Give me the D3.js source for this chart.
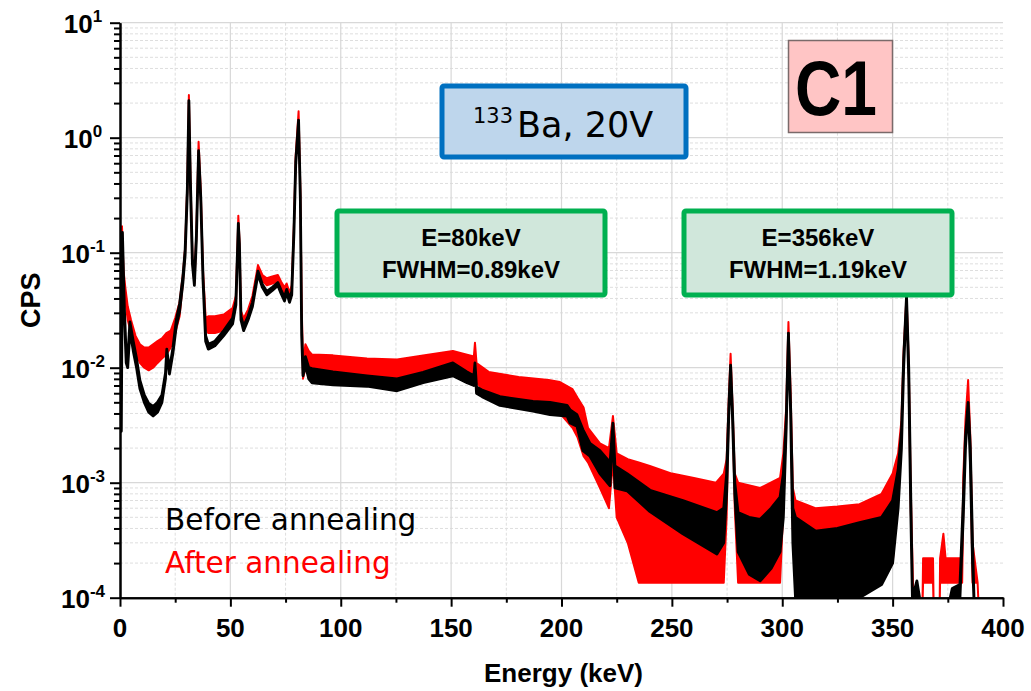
<!DOCTYPE html>
<html>
<head>
<meta charset="utf-8">
<script src="https://cdn.jsdelivr.net/npm/d3@7"></script>
<style>
  body { margin: 0; background: #fff; }
  svg { display: block; }
  .axis path, .axis line { stroke: #000; stroke-width: 2; }
  .grid-major line { stroke: #d8d8d8; stroke-width: 1.2; }
  .grid-minor line { stroke: #dedede; stroke-width: 1; stroke-dasharray: 3,2; }
</style>
</head>
<body>
<svg width="1031" height="691"></svg>
<script>
// spectrum: [energy keV, band low CPS, band high CPS]
var before = [
  [0,0.0040,0.0045],[0.6,0.0028,0.0030],[1.1,0.140,0.150],[2.0,0.028,0.032],
  [2.8,0.011,0.013],[3.5,0.010,0.012],[4.5,0.021,0.025],[6.0,0.014,0.017],
  [7.5,0.010,0.012],[9.0,0.0066,0.0078],[11,0.0050,0.0058],[13,0.0041,0.0049],
  [15,0.0038,0.0046],[17,0.0041,0.0050],[19,0.0050,0.0058],[20.6,0.0080,0.0090],
  [21.2,0.0135,0.0145],[22.4,0.0088,0.0096],[24,0.0135,0.015],[25.5,0.023,0.026],
  [27,0.031,0.036],[28.5,0.055,0.062],[29.5,0.095,0.105],[30.5,0.33,0.36],
  [31.2,2.0,2.1],[31.9,0.38,0.42],[32.8,0.080,0.088],[33.7,0.052,0.056],
  [34.6,0.13,0.14],[35.6,0.74,0.77],[36.6,0.28,0.30],[37.6,0.058,0.062],
  [38.8,0.017,0.019],[40,0.0145,0.016],[43,0.0155,0.017],[47,0.019,0.021],
  [51,0.024,0.027],[52.5,0.035,0.038],[53.2,0.095,0.10],[53.6,0.17,0.18],
  [54.1,0.11,0.12],[54.8,0.026,0.028],[56,0.021,0.023],[58,0.026,0.028],
  [60,0.034,0.037],[62.5,0.065,0.069],[64.5,0.050,0.053],[66.5,0.043,0.046],
  [69,0.047,0.050],[71.5,0.052,0.055],[73,0.044,0.047],[74.5,0.038,0.041],
  [75.5,0.045,0.048],[76.8,0.037,0.040],[77.8,0.043,0.046],[78.8,0.15,0.16],
  [79.6,0.58,0.62],[80.9,1.38,1.42],[81.7,0.29,0.31],[82.3,0.019,0.021],
  [82.9,0.0085,0.0095],[84,0.0105,0.0125],[85.5,0.0080,0.0100],[87,0.0074,0.0098],
  [96.5,0.0071,0.0092],[111.9,0.0069,0.0085],[125.5,0.0063,0.0080],[137.3,0.0074,0.0091],
  [150.8,0.0085,0.0110],[157.2,0.0074,0.0092],[160.3,0.0070,0.0085],[160.8,0.0105,0.0110],
  [161.5,0.0060,0.0068],[164,0.0056,0.0064],[172.1,0.0047,0.0056],[187.1,0.0042,0.0051],
  [194.8,0.0039,0.0050],[202.5,0.0038,0.0047],[203.9,0.0033,0.0043],[207,0.0031,0.0039],
  [209.7,0.0019,0.0029],[212.9,0.0017,0.0022],[217.4,0.0012,0.0019],[222,0.00094,0.0015],
  [223.3,0.0030,0.0033],[224.2,0.0009,0.0014],[229.7,0.00085,0.0012],[240.1,0.00056,0.00086],
  [255,0.00036,0.00070],[270.4,0.00024,0.00055],[273.5,0.00030,0.0006],[274.8,0.0008,0.0012],
  [275.8,0.0040,0.0045],[276.6,0.0100,0.0105],[277.5,0.0035,0.0040],[278.5,0.0008,0.0010],
  [280,0.00025,0.00055],[285,0.00016,0.0005],[290,0.00014,0.00048],[295,0.00018,0.0006],
  [299,0.00025,0.00075],[300.5,0.0005,0.0012],[301.8,0.0030,0.0035],[302.8,0.019,0.020],
  [303.8,0.0040,0.0045],[304.8,0.0003,0.0006],[306,0.0001,0.0005],[315,0.0001,0.00038],
  [325,0.0001,0.0004],[335,0.0001,0.00045],[345,0.00013,0.0005],[350,0.0002,0.0007],
  [352.5,0.0006,0.0013],[354,0.0020,0.0028],[355,0.010,0.012],[356.3,0.040,0.042],
  [357.3,0.008,0.010],[358.2,0.0006,0.0008],[359,0.00009,0.0001],[361,0.0001,0.00014],
  [363,0.00008,0.00008],[375,0.00008,0.00008],[377,0.0001,0.00012],[380.5,0.0001,0.00013],
  [382,0.0005,0.0007],[383,0.0020,0.0025],[384.2,0.0048,0.0050],[385.2,0.0015,0.0020],
  [386.2,0.0002,0.0003],[387,0.00008,0.00008]
];

var after = [
  [0,0.013,0.015],[0.9,0.165,0.170],[1.6,0.060,0.070],[2.4,0.038,0.050],
  [3.5,0.026,0.034],[5,0.020,0.026],[7,0.014,0.019],[9,0.011,0.016],
  [11,0.010,0.015],[13,0.0095,0.015],[15,0.010,0.016],[17,0.011,0.017],
  [19,0.012,0.018],[21,0.013,0.020],[23,0.015,0.021],[25,0.020,0.027],
  [27,0.028,0.037],[28.5,0.055,0.065],[29.5,0.10,0.11],[30.5,0.36,0.40],
  [31.2,2.25,2.35],[31.9,0.42,0.46],[32.8,0.085,0.095],[33.7,0.054,0.058],
  [34.6,0.14,0.15],[35.6,0.88,0.92],[36.6,0.32,0.34],[37.6,0.065,0.070],
  [38.8,0.022,0.027],[40,0.020,0.028],[43,0.020,0.028],[47,0.021,0.029],
  [51,0.025,0.033],[52.5,0.036,0.042],[53.2,0.10,0.11],[53.6,0.20,0.21],
  [54.1,0.12,0.13],[54.8,0.028,0.031],[56,0.023,0.027],[58,0.028,0.032],
  [60,0.038,0.042],[62.5,0.072,0.078],[64.5,0.057,0.064],[66.5,0.052,0.060],
  [69,0.054,0.062],[71.5,0.056,0.064],[73,0.048,0.056],[74.5,0.041,0.050],
  [75.5,0.048,0.054],[76.8,0.039,0.045],[77.8,0.046,0.052],[78.8,0.17,0.18],
  [79.6,0.65,0.70],[80.9,1.65,1.70],[81.7,0.33,0.35],[82.3,0.030,0.035],
  [82.9,0.008,0.011],[84,0.010,0.016],[85.5,0.009,0.014],[87,0.0082,0.0130],
  [96.5,0.0080,0.0128],[111.9,0.0075,0.0120],[125.5,0.0072,0.0118],[137.3,0.0082,0.0128],
  [150.8,0.0094,0.0140],[157.2,0.0085,0.0130],[160.3,0.0080,0.0125],[160.8,0.0150,0.0165],
  [161.5,0.0075,0.0110],[167,0.0055,0.0092],[180.6,0.0045,0.0083],[194.2,0.0042,0.0078],
  [199.3,0.0040,0.0075],[205,0.0030,0.0065],[207.2,0.0025,0.0055],[210,0.0017,0.0045],
  [212,0.0015,0.0030],[217.4,0.0009,0.0022],[221.5,0.0006,0.0020],[223.3,0.0015,0.0038],
  [225,0.0005,0.0018],[230,0.0003,0.0016],[235,0.000135,0.0015],[240,0.000135,0.0014],
  [250,0.000135,0.0012],[260,0.000135,0.0011],[270,0.000135,0.0010],[273.5,0.000135,0.0012],
  [274.8,0.0005,0.0016],[275.8,0.0050,0.0055],[276.6,0.0128,0.0132],[277.5,0.0040,0.0045],
  [278.5,0.0006,0.0012],[280,0.000135,0.0010],[290,0.000135,0.0009],[299,0.000135,0.0011],
  [300.5,0.0006,0.0018],[301.8,0.0035,0.0045],[302.8,0.0245,0.0250],[303.8,0.0050,0.0060],
  [304.8,0.0004,0.0009],[306,0.000135,0.0007],[315,0.000135,0.0006],[325,0.000135,0.00062],
  [335,0.000135,0.00065],[345,0.000135,0.0008],[350,0.0002,0.0012],[352.5,0.0008,0.0018],
  [354,0.0025,0.0035],[355,0.012,0.014],[356.3,0.041,0.043],[357.3,0.009,0.011],
  [358.2,0.0006,0.0009],[359,0.000135,0.0002],[359.5,0.00008,0.00008],[363.5,0.00008,0.00008],
  [363.8,0.000135,0.00022],[368.3,0.000135,0.00022],[368.6,0.00008,0.00008],[371.3,0.00008,0.00008],
  [371.5,0.000135,0.00022],[373,0.000135,0.00036],[374,0.000135,0.00022],[381.5,0.000135,0.00022],
  [382,0.0006,0.0011],[383,0.0030,0.0035],[384.2,0.0075,0.0078],[385.2,0.0020,0.0025],
  [386.2,0.000135,0.0003],[388.5,0.000135,0.000135],[389,0.00008,0.00008]
];

var xMajor = [0, 50, 100, 150, 200, 250, 300, 350, 400];
var xMinor = [25, 75, 125, 175, 225, 275, 325, 375];
var yExponents = [-4, -3, -2, -1, 0, 1];
var legendLabels = ["Before annealing", "After annealing"];
var peakNotes = [["E=80keV", "FWHM=0.89keV"], ["E=356keV", "FWHM=1.19keV"]];

// size and margins
var svg = d3.select("svg"),
    margin = {top: 22.7, right: 28, bottom: 93.3, left: 120},
    width = 1031 - margin.left - margin.right,
    height = 691 - margin.top - margin.bottom;

var x = d3.scaleLinear().domain([0, 400]).range([0, width]);
var y = d3.scaleLog().domain([1e-4, 10]).range([height, 0]);

var yMajor = yExponents.map(function(e) { return Math.pow(10, e); });
var yMinor = [];
yExponents.slice(0, -1).forEach(function(e) {
  for (var k = 2; k <= 9; k++) yMinor.push(k * Math.pow(10, e));
});

var g = svg.append("g").attr("transform", "translate(" + margin.left + "," + margin.top + ")");

// grid
g.append("g").attr("class", "grid-minor")
  .selectAll("line.h").data(yMinor).enter().append("line")
  .attr("x1", 0).attr("x2", width)
  .attr("y1", function(d) { return y(d); }).attr("y2", function(d) { return y(d); });
g.append("g").attr("class", "grid-minor")
  .selectAll("line.v").data(xMinor).enter().append("line")
  .attr("y1", 0).attr("y2", height)
  .attr("x1", function(d) { return x(d); }).attr("x2", function(d) { return x(d); });
g.append("g").attr("class", "grid-major")
  .selectAll("line").data(yMajor.slice(1)).enter().append("line")
  .attr("x1", 0).attr("x2", width)
  .attr("y1", function(d) { return y(d); }).attr("y2", function(d) { return y(d); });
g.append("g").attr("class", "grid-major")
  .selectAll("line").data(xMajor.slice(1, -1)).enter().append("line")
  .attr("y1", 0).attr("y2", height)
  .attr("x1", function(d) { return x(d); }).attr("x2", function(d) { return x(d); });

// clip for spectra
svg.append("defs").append("clipPath").attr("id", "plot")
  .append("rect").attr("x", 0).attr("y", -2).attr("width", width).attr("height", height + 2);

var band = d3.area()
  .x(function(d) { return x(d[0]); })
  .y0(function(d) { return y(d[1]); })
  .y1(function(d) { return y(d[2]); });

var spectra = g.append("g").attr("clip-path", "url(#plot)");
spectra.append("path").datum(after)
  .attr("d", band)
  .attr("fill", "#ff0000").attr("stroke", "#ff0000")
  .attr("stroke-width", 2).attr("stroke-linejoin", "round");
spectra.append("path").datum(before)
  .attr("d", band)
  .attr("fill", "#000").attr("stroke", "#000")
  .attr("stroke-width", 2.8).attr("stroke-linejoin", "round");

// axes
g.append("g").attr("class", "axis")
  .call(d3.axisLeft(y).tickValues(yMinor).tickSize(6).tickSizeOuter(0).tickFormat(""));
g.append("g").attr("class", "axis")
  .call(d3.axisLeft(y).tickValues(yMajor).tickSize(10).tickSizeOuter(0).tickFormat(""));
g.append("g").attr("class", "axis").attr("transform", "translate(0," + height + ")")
  .call(d3.axisBottom(x).tickValues(xMinor).tickSize(5).tickSizeOuter(0).tickFormat(""));
g.append("g").attr("class", "axis").attr("transform", "translate(0," + height + ")")
  .call(d3.axisBottom(x).tickValues(xMajor).tickSize(9).tickSizeOuter(0).tickFormat(""));

// tick labels
var lab = g.append("g").style("font-family", "'Liberation Sans', Arial, sans-serif")
  .style("font-weight", "bold").attr("fill", "#000");

lab.selectAll("text.yl").data(yExponents).enter().append("text")
  .attr("x", -37).attr("y", function(d) { return y(Math.pow(10, d)) + 10; })
  .attr("text-anchor", "middle").style("font-size", "26px")
  .each(function(d) {
    var t = d3.select(this);
    t.append("tspan").text("10");
    t.append("tspan").attr("dy", -11).style("font-size", "17px").text(d);
  });

lab.selectAll("text.xl").data(xMajor).enter().append("text")
  .attr("x", function(d) { return x(d); }).attr("y", height + 39)
  .attr("text-anchor", "middle").style("font-size", "26px")
  .text(function(d) { return d; });

lab.append("text").attr("x", x(200) + 2).attr("y", height + 84)
  .attr("text-anchor", "middle").style("font-size", "26px").text("Energy (keV)");

lab.append("text").attr("transform", "translate(" + (-80) + "," + (height / 2 - 10) + ") rotate(-90)")
  .attr("text-anchor", "middle").style("font-size", "27px").text("CPS");

// source label box
var ann = svg.append("g");
ann.append("rect").attr("x", 442).attr("y", 86).attr("width", 244).attr("height", 71)
  .attr("rx", 2).attr("fill", "#bed6ec").attr("stroke", "#0070c0").attr("stroke-width", 5);
ann.append("text").attr("x", 473).attr("y", 123)
  .style("font-family", "'DejaVu Sans', sans-serif").style("font-size", "21px").text("133");
ann.append("text").attr("x", 517).attr("y", 137)
  .style("font-family", "'DejaVu Sans', sans-serif").style("font-size", "35px").text("Ba, 20V");

// peak notes
var noteX = [471, 818];
peakNotes.forEach(function(lines, i) {
  ann.append("rect").attr("x", noteX[i] - 134).attr("y", 211).attr("width", 268).attr("height", 84)
    .attr("rx", 2).attr("fill", "#d0e7db").attr("stroke", "#00b050").attr("stroke-width", 5);
  lines.forEach(function(s, j) {
    ann.append("text").attr("x", noteX[i]).attr("y", 246 + j * 32)
      .attr("text-anchor", "middle")
      .style("font-family", "'Liberation Sans', Arial, sans-serif")
      .style("font-weight", "bold").style("font-size", "24px").text(s);
  });
});

// C1 tag
ann.append("rect").attr("x", 788.5).attr("y", 40.5).attr("width", 104).attr("height", 92)
  .attr("fill", "#ffc5c5").attr("stroke", "#7a6a6a").attr("stroke-width", 1.5);
ann.append("text").attr("x", 795).attr("y", 115)
  .attr("textLength", 82).attr("lengthAdjust", "spacingAndGlyphs")
  .style("font-family", "'Liberation Sans', Arial, sans-serif")
  .style("font-weight", "bold").style("font-size", "78px").text("C1");

// legend text
var legendColors = ["#000", "#ff0000"];
legendLabels.forEach(function(s, i) {
  ann.append("text").attr("x", 165).attr("y", 530 + i * 43)
    .attr("fill", legendColors[i])
    .style("font-family", "'DejaVu Sans', sans-serif").style("font-size", "29.5px").text(s);
});
</script>
</body>
</html>
